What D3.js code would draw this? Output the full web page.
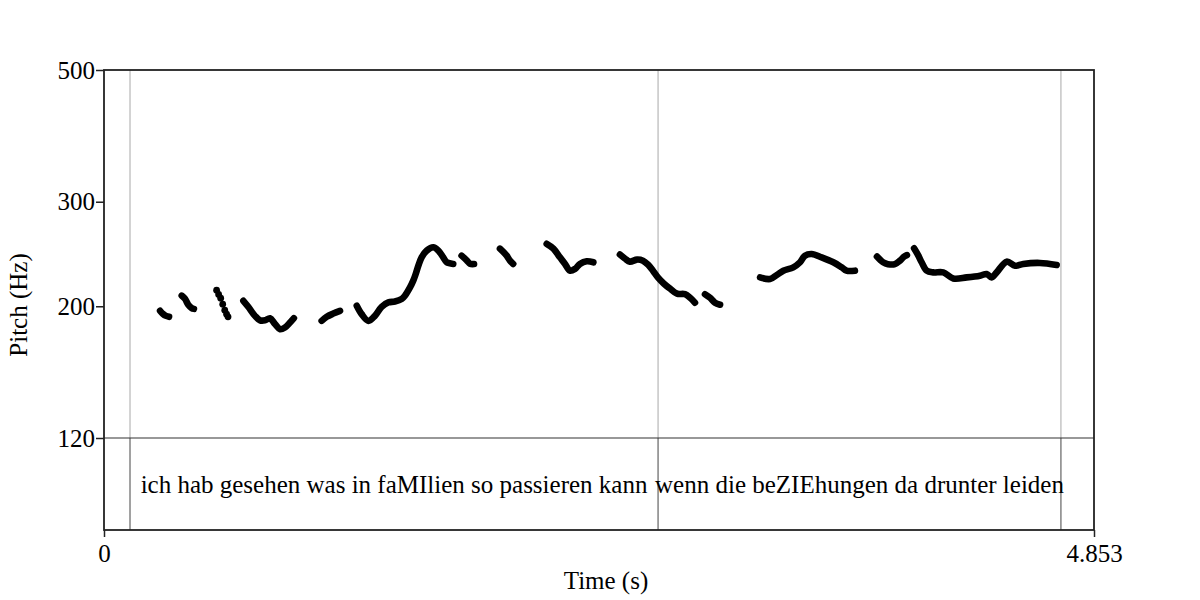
<!DOCTYPE html>
<html>
<head>
<meta charset="utf-8">
<script src="https://cdn.jsdelivr.net/npm/d3@7"></script>
<style>
  body { margin: 0; background: #fff; }
  text { font-family: "Liberation Serif", "Times New Roman", serif; fill: #000; }
</style>
</head>
<body>
<svg width="1200" height="600"></svg>
<script>
// pitch track, [time (s), F0 (Hz)], one array per voiced stretch
const seg1 = [[0.275, 196.5], [0.289, 194.2], [0.304, 192.7], [0.319, 192.0]];
const seg2 = [[0.381, 208.4], [0.397, 205.9], [0.413, 201.2], [0.430, 198.6], [0.441, 198.0]];
// this one is drawn as loose dots (fast fall)
const seg3 = [[0.552, 212.9], [0.562, 209.4], [0.572, 206.4], [0.582, 201.6], [0.592, 197.0], [0.601, 194.0],
  [0.608, 192.0]];
const seg4 = [[0.683, 204.3], [0.707, 199.6], [0.740, 192.7], [0.765, 189.4], [0.789, 189.4], [0.814, 190.9],
  [0.838, 186.7], [0.863, 183.0], [0.887, 184.2], [0.912, 187.8], [0.931, 191.0]];
const seg5 = [[1.067, 189.0], [1.092, 192.0], [1.124, 194.4], [1.157, 196.5]];
const seg6 = [[1.239, 200.4], [1.263, 194.0], [1.296, 189.0], [1.328, 192.7], [1.361, 199.6], [1.394, 203.0],
  [1.426, 203.7], [1.459, 205.7], [1.475, 208.4], [1.500, 215.2], [1.516, 220.9], [1.528, 226.7],
  [1.541, 234.1], [1.557, 241.8], [1.582, 248.2], [1.614, 251.4], [1.639, 248.2], [1.663, 241.8],
  [1.680, 237.2], [1.712, 235.7]];
const seg7 = [[1.753, 243.4], [1.778, 239.0], [1.794, 235.9], [1.814, 235.6]];
const seg8 = [[1.941, 250.1], [1.974, 243.4], [1.990, 238.7], [2.006, 235.7]];
const seg9 = [[2.170, 254.8], [2.203, 250.1], [2.235, 241.8], [2.260, 235.7], [2.284, 229.6], [2.309, 231.2],
  [2.333, 235.7], [2.366, 238.1], [2.399, 237.2]];
const seg10 = [[2.529, 244.4], [2.554, 240.6], [2.578, 237.8], [2.613, 239.7], [2.642, 238.7], [2.667, 235.0],
  [2.691, 229.6], [2.716, 223.5], [2.745, 218.3], [2.775, 214.1], [2.809, 210.0], [2.848, 209.6],
  [2.873, 206.7], [2.897, 202.8]];
const seg11 = [[2.946, 209.6], [2.971, 206.7], [2.995, 202.8], [3.020, 201.2]];
const seg12 = [[3.216, 223.7], [3.265, 222.3], [3.298, 225.8], [3.330, 229.6], [3.379, 232.6], [3.412, 237.2],
  [3.436, 243.4], [3.469, 245.0], [3.518, 241.8], [3.575, 237.2], [3.616, 232.6], [3.640, 229.6],
  [3.681, 229.6]];
const seg13 = [[3.789, 242.5], [3.819, 237.2], [3.843, 235.5], [3.877, 235.5], [3.902, 238.7], [3.922, 242.5],
  [3.936, 243.9]];
const seg14 = [[3.971, 250.4], [3.992, 243.4], [4.008, 237.2], [4.033, 229.6], [4.065, 228.1], [4.114, 228.1],
  [4.163, 222.8], [4.229, 223.7], [4.294, 225.2], [4.327, 226.7], [4.351, 223.7], [4.376, 228.1],
  [4.425, 237.8], [4.466, 234.1], [4.506, 235.7], [4.588, 236.6], [4.670, 234.8]];

const lineSegs = [seg1, seg2, seg4, seg5, seg6, seg7, seg8, seg9, seg10, seg11, seg12, seg13, seg14];
const dotSegs = [seg3];

const yTicks = [120, 200, 300, 500];
const xTicks = [0, 4.853];
const duration = 4.853;

// text tier
const tierBounds = [0.1275, 2.716, 4.691];
const tierLabels = [
  "ich hab gesehen was in faMIlien so passieren kann",
  "wenn die beZIEhungen da drunter leiden",
];

const plotLeft = 104, plotRight = 1094, plotTop = 70, pitchBottom = 438, plotBottom = 530;
const fontSize = 25;

const svg = d3.select("svg");
const x = d3.scaleLinear().domain([0, duration]).range([plotLeft, plotRight]);
const y = d3.scaleLog().domain([120, 500]).range([pitchBottom, plotTop]);

// tier boundaries: light in the pitch area, darker in the tier
svg.selectAll(".bpitch")
  .data(tierBounds)
  .enter()
  .append("line")
  .attr("x1", (d) => x(d)).attr("x2", (d) => x(d))
  .attr("y1", plotTop).attr("y2", pitchBottom)
  .attr("stroke", "#a8a8a8")
  .attr("stroke-width", 1);

svg.selectAll(".btier")
  .data(tierBounds)
  .enter()
  .append("line")
  .attr("x1", (d) => x(d)).attr("x2", (d) => x(d))
  .attr("y1", pitchBottom).attr("y2", plotBottom)
  .attr("stroke", "#444")
  .attr("stroke-width", 1);

svg.append("line")
  .attr("x1", plotLeft).attr("x2", plotRight)
  .attr("y1", pitchBottom).attr("y2", pitchBottom)
  .attr("stroke", "#333")
  .attr("stroke-width", 1.2);

// tier labels centred in their intervals
const intervals = d3.pairs(tierBounds);
svg.selectAll(".tlab")
  .data(tierLabels)
  .enter()
  .append("text")
  .attr("x", (d, i) => (x(intervals[i][0]) + x(intervals[i][1])) / 2)
  .attr("y", (pitchBottom + plotBottom) / 2)
  .attr("dy", "0.35em")
  .attr("text-anchor", "middle")
  .attr("font-size", fontSize)
  .text((d) => d);

// pitch curve
const line = d3.line()
  .x((d) => x(d[0]))
  .y((d) => y(d[1]))
  .curve(d3.curveCatmullRom.alpha(0.5));

svg.append("g")
  .selectAll("path")
  .data(lineSegs)
  .enter()
  .append("path")
  .attr("d", line)
  .attr("fill", "none")
  .attr("stroke", "#000")
  .attr("stroke-width", 6.6)
  .attr("stroke-linecap", "round")
  .attr("stroke-linejoin", "round");

svg.append("g")
  .selectAll("circle")
  .data(dotSegs.flat())
  .enter()
  .append("circle")
  .attr("cx", (d) => x(d[0]))
  .attr("cy", (d) => y(d[1]))
  .attr("r", 3.4)
  .attr("fill", "#000");

// frame
svg.append("rect")
  .attr("x", plotLeft).attr("y", plotTop)
  .attr("width", plotRight - plotLeft).attr("height", plotBottom - plotTop)
  .attr("fill", "none")
  .attr("stroke", "#222")
  .attr("stroke-width", 1.8);

// axes
const yAxis = svg.append("g")
  .attr("transform", `translate(${plotLeft},0)`)
  .call(d3.axisLeft(y).tickValues(yTicks).tickFormat(d3.format("d")).tickSize(8).tickPadding(1));

const xAxis = svg.append("g")
  .attr("transform", `translate(0,${plotBottom})`)
  .call(d3.axisBottom(x).tickValues(xTicks).tickFormat((d) => (d === 0 ? "0" : "4.853")).tickSize(7).tickPadding(7));

[yAxis, xAxis].forEach((g) => {
  g.select(".domain").remove();
  g.selectAll("line").attr("stroke", "#222").attr("stroke-width", 1.5);
  g.selectAll("text").attr("font-size", fontSize).attr("fill", "#000");
});

svg.append("text")
  .attr("x", 606)
  .attr("y", 580)
  .attr("dy", "0.35em")
  .attr("text-anchor", "middle")
  .attr("font-size", fontSize)
  .text("Time (s)");

svg.append("text")
  .attr("transform", "rotate(-90)")
  .attr("x", -305)
  .attr("y", 18)
  .attr("dy", "0.35em")
  .attr("text-anchor", "middle")
  .attr("font-size", fontSize)
  .text("Pitch (Hz)");
</script>
</body>
</html>
